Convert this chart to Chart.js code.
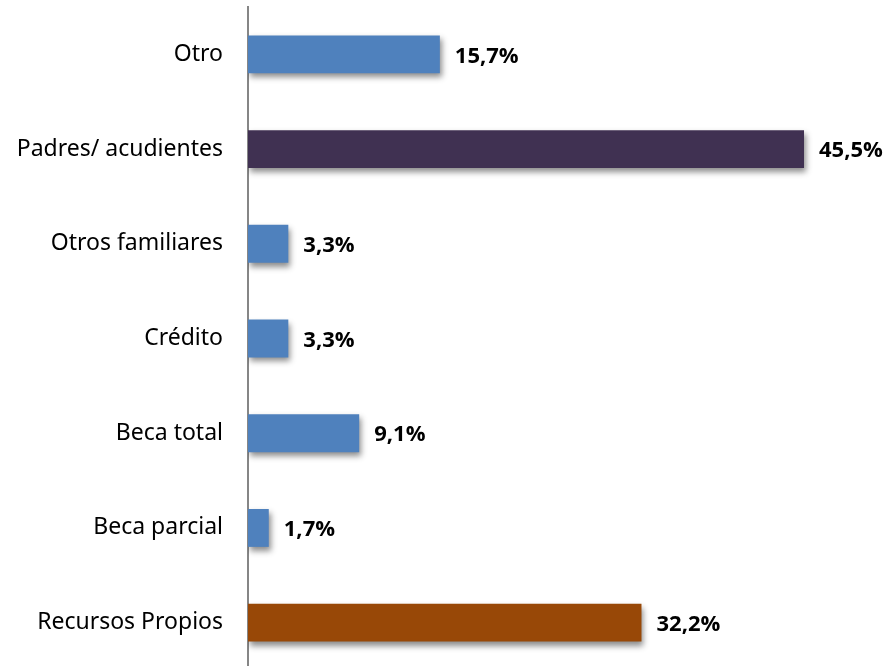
<!DOCTYPE html>
<html>
<head>
<meta charset="utf-8">
<script src="https://cdn.jsdelivr.net/npm/chart.js@4/dist/chart.umd.min.js"></script>
<style>
  html, body { margin: 0; padding: 0; background: #fff; overflow: hidden; }
  canvas { display: block; }
</style>
</head>
<body>
<canvas id="chart" width="892" height="670"></canvas>
<script>
// Chart data
var categories = ['Otro', 'Padres/ acudientes', 'Otros familiares', 'Crédito', 'Beca total', 'Beca parcial', 'Recursos Propios'];
var shares = [15.7, 45.5, 3.3, 3.3, 9.1, 1.7, 32.2];
var barColors = ['#4F81BD', '#403152', '#4F81BD', '#4F81BD', '#4F81BD', '#4F81BD', '#984807'];

// Soft shadow under each bar, like the office chart.
var barShadow = {
  id: 'barShadow',
  beforeDatasetsDraw: function (chart) {
    var ctx = chart.ctx;
    ctx.save();
    ctx.shadowColor = 'rgba(0,0,0,0.45)';
    ctx.shadowBlur = 6;
    ctx.shadowOffsetX = 2;
    ctx.shadowOffsetY = 4;
  },
  afterDatasetsDraw: function (chart) {
    chart.ctx.restore();
  }
};

// Value labels to the right of the bars.
var valueLabels = {
  id: 'valueLabels',
  afterDatasetsDraw: function (chart) {
    var ctx = chart.ctx;
    var meta = chart.getDatasetMeta(0);
    ctx.save();
    ctx.font = 'bold 22px "Open Sans"';
    ctx.fillStyle = '#000';
    ctx.textAlign = 'left';
    ctx.textBaseline = 'middle';
    meta.data.forEach(function (bar, i) {
      ctx.fillText(shares[i].toFixed(1).replace('.', ',') + '%', bar.x + 15, bar.y + 2);
    });
    ctx.restore();
  }
};

new Chart(document.getElementById('chart'), {
  type: 'bar',
  data: {
    labels: categories,
    datasets: [{
      data: shares,
      backgroundColor: barColors,
      borderWidth: 0,
      categoryPercentage: 1,
      barPercentage: 0.4
    }]
  },
  options: {
    indexAxis: 'y',
    responsive: false,
    animation: false,
    layout: { padding: { top: 7, right: 33, bottom: 0, left: 0 } },
    plugins: {
      legend: { display: false },
      tooltip: { enabled: false }
    },
    scales: {
      x: {
        display: false,
        min: 0,
        max: 50
      },
      y: {
        grid: { display: false, drawTicks: false },
        border: { display: true, color: '#868686', width: 2 },
        ticks: {
          color: '#000',
          padding: 25,
          font: { family: 'Noto Sans', size: 23 }
        },
        afterFit: function (scale) {
          scale.width = 248;
          scale.paddingTop = 0;
          scale.paddingBottom = 0;
        }
      }
    }
  },
  plugins: [barShadow, valueLabels]
});
</script>
</body>
</html>
